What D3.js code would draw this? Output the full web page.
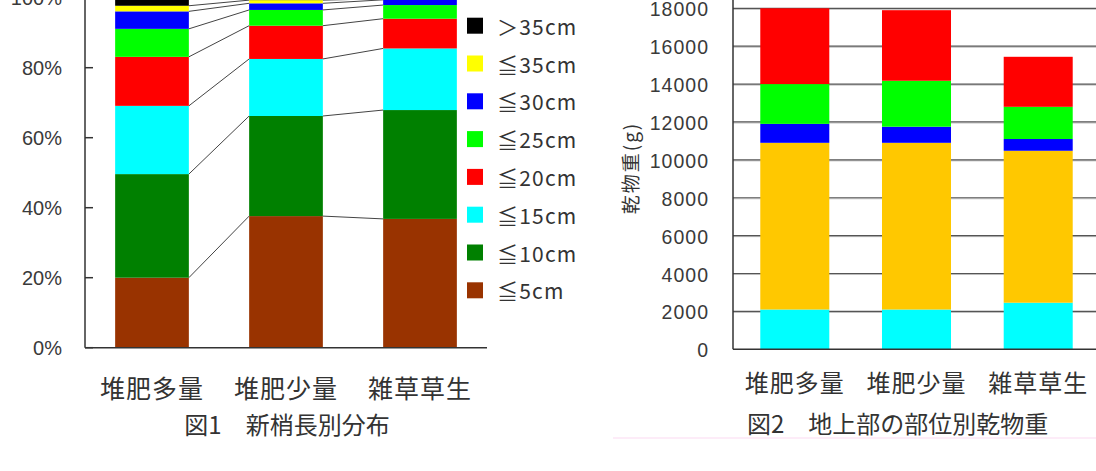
<!DOCTYPE html>
<html>
<head>
<meta charset="utf-8">
<script src="https://cdn.jsdelivr.net/npm/d3@7"></script>
<style>
  body { margin: 0; background: #fff; }
  svg { display: block; }
  .num { font-family: "Liberation Sans", Arial, sans-serif; fill: #3a3a3a; }
  .jp { font-family: "Noto Sans CJK JP", sans-serif; fill: #333; }
</style>
</head>
<body>
<svg id="chart" width="1096" height="471"></svg>
<script>
// categories
const groups = ["堆肥多量", "堆肥少量", "雑草草生"];

// fig.1 : share (%) of new shoots by length class
const lenClasses = ["≦5cm", "≦10cm", "≦15cm", "≦20cm", "≦25cm", "≦30cm", "≦35cm", "＞35cm"];
const le5  = [20.0, 37.6, 36.8];
const le10 = [29.6, 28.6, 31.1];
const le15 = [19.5, 16.3, 17.6];
const le20 = [14.0,  9.5,  8.5];
const le25 = [ 8.0,  4.5,  3.9];
const le30 = [ 5.0,  1.9,  1.5];
const le35 = [ 1.6,  0.9,  0.3];
const gt35 = [ 2.3,  0.7,  0.3];
const pctTicks = [0, 20, 40, 60, 80, 100];

// fig.2 : dry weight (g) by part, bottom to top
const partA = [2100, 2100, 2460];
const partB = [8800, 8800, 8020];
const partC = [1000,  850,  620];
const partD = [2100, 2425, 1700];
const partE = [4000, 3725, 2640];
const wTicks = [0, 2000, 4000, 6000, 8000, 10000, 12000, 14000, 16000, 18000];

const svg = d3.select("#chart");

// ---------- figure 1 ----------
const lenSeries = [le5, le10, le15, le20, le25, le30, le35, gt35];
const lenColors = ["#993300", "#008000", "#00ffff", "#ff0000", "#00ff00", "#0000ff", "#ffff00", "#000000"];
const t1 = groups.map((g, i) => {
  const row = { group: g };
  lenClasses.forEach((c, k) => row[c] = lenSeries[k][i]);
  return row;
});
const stack1 = d3.stack().keys(lenClasses)(t1);

const x1 = d3.scaleBand().domain(groups).range([85, 487]).paddingInner(0.45).paddingOuter(0.225);
const y1 = d3.scaleLinear().domain([0, 100]).range([347.7, -2.3]);

const g1 = svg.append("g");

// connector lines between bars
stack1.forEach(s => {
  for (let i = 0; i < groups.length - 1; i++) {
    g1.append("line")
      .attr("x1", x1(groups[i]) + x1.bandwidth())
      .attr("y1", y1(s[i][1]))
      .attr("x2", x1(groups[i + 1]))
      .attr("y2", y1(s[i + 1][1]))
      .attr("stroke", "#444")
      .attr("stroke-width", 1);
  }
});

g1.selectAll(".layer")
  .data(stack1)
  .join("g")
  .attr("fill", (d, i) => lenColors[i])
  .selectAll("rect")
  .data(d => d)
  .join("rect")
  .attr("x", d => x1(d.data.group))
  .attr("y", d => y1(d[1]))
  .attr("width", x1.bandwidth())
  .attr("height", d => y1(d[0]) - y1(d[1]));

// axes
g1.append("line").attr("x1", 85).attr("x2", 85).attr("y1", 0).attr("y2", y1(0))
  .attr("stroke", "#333").attr("stroke-width", 1.5);
g1.append("line").attr("x1", 85).attr("x2", 487).attr("y1", y1(0)).attr("y2", y1(0))
  .attr("stroke", "#333").attr("stroke-width", 1.5);
pctTicks.forEach(t => {
  g1.append("line").attr("x1", 85).attr("x2", 93).attr("y1", y1(t)).attr("y2", y1(t))
    .attr("stroke", "#333").attr("stroke-width", 1.5);
  g1.append("text").attr("class", "num")
    .attr("x", 62).attr("y", y1(t)).attr("text-anchor", "end")
    .attr("dominant-baseline", "central").attr("font-size", 20)
    .text(t + "%");
});
groups.forEach(g => {
  g1.append("text").attr("class", "jp")
    .attr("x", x1(g) + x1.bandwidth() / 2).attr("y", 387)
    .attr("text-anchor", "middle").attr("dominant-baseline", "central")
    .attr("font-size", 25).attr("letter-spacing", 1)
    .text(g);
});
g1.append("text").attr("class", "jp")
  .attr("x", 287).attr("y", 423).attr("text-anchor", "middle")
  .attr("dominant-baseline", "central").attr("font-size", 24)
  .text("図1　新梢長別分布");

// legend (top item = longest class)
const legOrder = lenClasses.map((c, i) => i).reverse();
legOrder.forEach((k, j) => {
  const cy = 25.7 + j * 37.8;
  g1.append("rect").attr("x", 467).attr("y", cy - 8).attr("width", 16).attr("height", 16)
    .attr("fill", lenColors[k]);
  g1.append("text").attr("class", "jp")
    .attr("x", 497).attr("y", cy).attr("dominant-baseline", "central")
    .attr("font-size", 21).attr("letter-spacing", 1.2)
    .text(lenClasses[k]);
});

// ---------- figure 2 ----------
const partKeys = ["A", "B", "C", "D", "E"];
const partSeries = [partA, partB, partC, partD, partE];
const partColors = ["#00ffff", "#ffc800", "#0000ff", "#00ff00", "#ff0000"];
const t2 = groups.map((g, i) => {
  const row = { group: g };
  partKeys.forEach((c, k) => row[c] = partSeries[k][i]);
  return row;
});
const stack2 = d3.stack().keys(partKeys)(t2);

const x2 = d3.scaleBand().domain(groups).range([734, 1099]).paddingInner(0.433).paddingOuter(0.216);
const y2 = d3.scaleLinear().domain([0, 18000]).range([349.3, 8.3]);

const g2 = svg.append("g");

wTicks.forEach(t => {
  if (t > 0) {
    g2.append("line").attr("x1", 733).attr("x2", 1096).attr("y1", y2(t) + 1).attr("y2", y2(t) + 1)
      .attr("stroke", "#bbb").attr("stroke-width", 1);
    g2.append("line").attr("x1", 733).attr("x2", 1096).attr("y1", y2(t)).attr("y2", y2(t))
      .attr("stroke", "#555").attr("stroke-width", 1.2);
  }
  g2.append("text").attr("class", "num")
    .attr("x", 709).attr("y", y2(t) + 1).attr("text-anchor", "end")
    .attr("dominant-baseline", "central").attr("font-size", 19.5).attr("letter-spacing", 1)
    .text(t);
});

g2.selectAll(".layer")
  .data(stack2)
  .join("g")
  .attr("fill", (d, i) => partColors[i])
  .selectAll("rect")
  .data(d => d)
  .join("rect")
  .attr("x", d => x2(d.data.group))
  .attr("y", d => y2(d[1]))
  .attr("width", x2.bandwidth())
  .attr("height", d => y2(d[0]) - y2(d[1]));

g2.append("line").attr("x1", 733).attr("x2", 733).attr("y1", 0).attr("y2", y2(0))
  .attr("stroke", "#333").attr("stroke-width", 1.5);
g2.append("line").attr("x1", 733).attr("x2", 1096).attr("y1", y2(0)).attr("y2", y2(0))
  .attr("stroke", "#333").attr("stroke-width", 1.5);

g2.append("text").attr("class", "jp")
  .attr("transform", "translate(629,168) rotate(-90)")
  .attr("text-anchor", "middle").attr("dominant-baseline", "central")
  .attr("font-size", 19).attr("letter-spacing", 2)
  .text("乾物重(g)");

groups.forEach(g => {
  g2.append("text").attr("class", "jp")
    .attr("x", x2(g) + x2.bandwidth() / 2).attr("y", 381)
    .attr("text-anchor", "middle").attr("dominant-baseline", "central")
    .attr("font-size", 24).attr("letter-spacing", 1)
    .text(g);
});
g2.append("text").attr("class", "jp")
  .attr("x", 747).attr("y", 422)
  .attr("dominant-baseline", "central").attr("font-size", 24)
  .text("図2　地上部の部位別乾物重");

svg.append("line").attr("x1", 613).attr("x2", 1096).attr("y1", 438).attr("y2", 438)
  .attr("stroke", "#fde6f6").attr("stroke-width", 1.5);
</script>
</body>
</html>
